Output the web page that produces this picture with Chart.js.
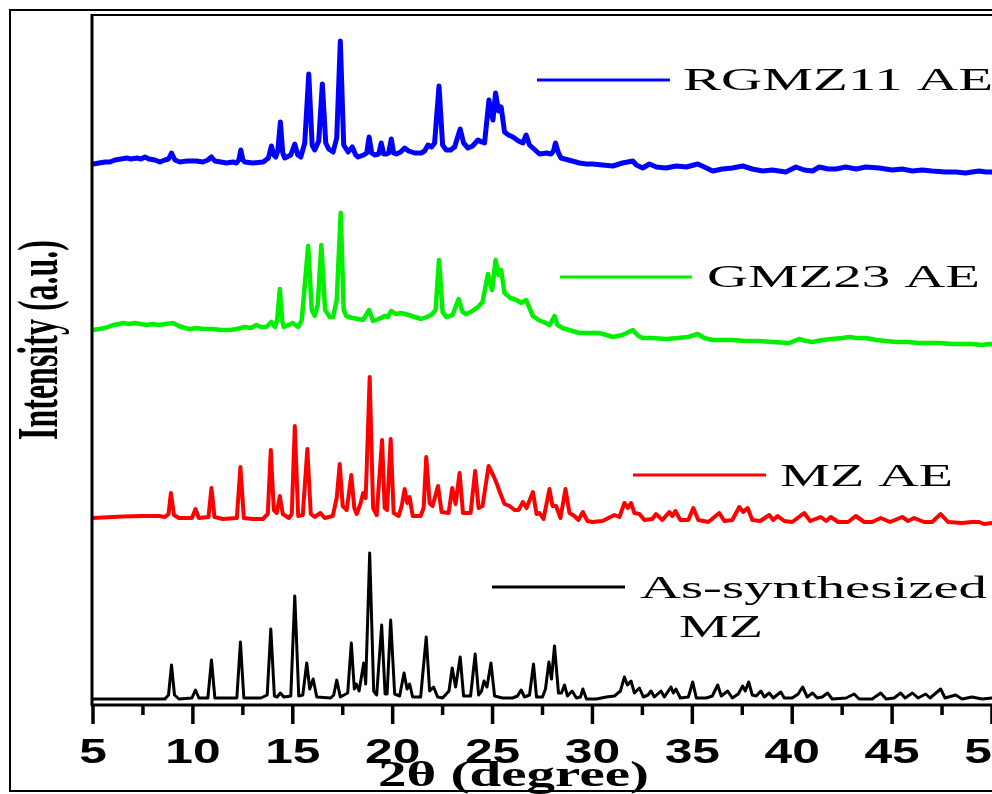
<!DOCTYPE html>
<html>
<head>
<meta charset="utf-8">
<title>XRD patterns</title>
<script src="https://cdn.jsdelivr.net/npm/chart.js@4.4.1/dist/chart.umd.min.js"></script>
<style>
  html, body { margin: 0; padding: 0; background: #fff; }
  #xrd { display: block; }
</style>
</head>
<body>
<canvas id="xrd" width="992" height="794"></canvas>
<script>
// [2theta, intensity above the pattern's own baseline]
const asSynthesizedMZ = [
  [5.0,0],[8.6,0],[8.78,4],[8.93,34],[9.08,4],[9.3,0],[9.95,1],[10.13,9],[10.3,1],[10.75,1],
  [10.93,39],[11.1,1],[12.2,1],[12.38,57],[12.55,1],[13.4,1],[13.72,4],[13.9,70],[14.08,3],[14.22,2],
  [14.38,6],[14.55,2],[14.9,3],[15.1,103],[15.3,3],[15.5,4],[15.7,36],[15.85,10],[16.02,20],[16.2,2],
  [16.9,1],[17.05,4],[17.2,19],[17.38,2],[17.75,6],[17.93,56],[18.08,10],[18.18,15],[18.32,8],[18.55,36],
  [18.65,15],[18.85,146],[19.05,8],[19.2,4],[19.45,74],[19.62,5],[19.72,5],[19.9,79],[20.1,5],[20.35,3],
  [20.57,26],[20.72,10],[20.85,15],[21.0,2],[21.4,2],[21.68,62],[21.85,8],[22.05,12],[22.25,2],[22.5,1],
  [22.82,8],[22.98,31],[23.15,12],[23.38,42],[23.55,3],[23.9,3],[24.13,45],[24.3,4],[24.45,8],[24.57,18],
  [24.72,12],[24.92,36],[25.1,3],[25.5,1],[26.0,1],[26.25,3],[26.43,9],[26.6,2],[26.85,4],[27.05,35],
  [27.2,2],[27.5,2],[27.65,10],[27.82,37],[27.95,20],[28.1,53],[28.3,6],[28.45,6],[28.6,14],[28.75,3],
  [28.98,8],[29.2,1],[29.4,2],[29.52,10],[29.7,0],[30.2,0],[30.7,2],[31.1,3],[31.4,8],[31.6,22],
  [31.75,14],[31.93,18],[32.1,6],[32.35,11],[32.55,2],[32.78,4],[32.93,8],[33.1,2],[33.43,8],[33.6,2],
  [33.93,12],[34.05,6],[34.18,10],[34.4,1],[34.8,2],[35.02,17],[35.2,1],[35.7,1],[36.0,3],[36.27,14],
  [36.45,3],[36.77,8],[37.0,1],[37.3,5],[37.52,13],[37.65,8],[37.82,17],[38.0,4],[38.2,3],[38.43,8],
  [38.6,2],[38.85,6],[39.05,1],[39.43,7],[39.6,1],[40.0,1],[40.3,5],[40.52,12],[40.75,2],[41.02,6],
  [41.25,1],[41.5,2],[41.77,6],[42.0,0],[42.7,1],[43.1,5],[43.35,0],[44.0,0],[44.43,6],[44.7,0],
  [45.1,1],[45.43,6],[45.65,1],[46.02,6],[46.3,1],[46.68,5],[46.9,1],[47.43,10],[47.65,1],[48.18,4],
  [48.5,0],[49.0,2],[49.5,0],[50.0,1]
];

const mzAE = [
  [5.0,0],[6.5,1.5],[7.5,2],[8.3,2],[8.6,1],[8.78,4],[8.9,25],[9.05,3],[9.3,0],[9.95,0],
  [10.13,9],[10.3,0],[10.78,1],[10.93,30],[11.08,1],[11.5,-1],[12.2,0],[12.38,51],[12.55,0],[13.0,-1],
  [13.5,-1],[13.75,4],[13.9,68],[14.05,8],[14.2,5],[14.35,22],[14.5,4],[14.8,0],[14.95,4],[15.1,92],
  [15.27,2],[15.5,3],[15.73,69],[15.9,4],[16.1,1],[16.38,5],[16.6,0],[17.0,2],[17.2,20],[17.35,54],
  [17.5,12],[17.7,8],[17.93,43],[18.08,10],[18.2,4],[18.4,15],[18.52,25],[18.65,20],[18.85,141],[19.02,10],
  [19.2,3],[19.47,78],[19.6,10],[19.72,8],[19.9,79],[20.05,5],[20.3,2],[20.45,12],[20.6,29],[20.73,15],
  [20.85,21],[21.0,2],[21.4,2],[21.55,10],[21.68,61],[21.85,15],[22.0,12],[22.27,32],[22.45,6],[22.8,5],
  [22.98,30],[23.15,14],[23.35,45],[23.52,5],[23.9,5],[24.13,47],[24.3,10],[24.5,12],[24.8,52],[25.05,42],
  [25.2,35],[25.38,25],[25.6,14],[25.85,12],[26.1,8],[26.3,8],[26.52,16],[26.7,10],[27.02,26],[27.2,4],
  [27.35,5],[27.55,-1],[27.85,29],[28.0,12],[28.18,12],[28.4,0],[28.65,29],[28.85,5],[29.1,2],[29.3,-2],
  [29.52,6],[29.75,-3],[30.0,-4],[30.5,-3],[31.1,3],[31.35,1],[31.6,15],[31.78,10],[31.93,15],[32.1,5],
  [32.35,4],[32.6,-2],[33.0,-1],[33.18,4],[33.5,-2],[33.85,6],[34.0,2],[34.15,7],[34.4,-2],[34.8,-2],
  [35.05,10],[35.3,-2],[35.8,-4],[36.35,5],[36.6,-3],[37.0,-2],[37.35,11],[37.55,6],[37.77,10],[38.0,-2],
  [38.4,-3],[38.85,3],[39.05,-2],[39.27,2],[39.6,-3],[40.0,-4],[40.6,5],[40.9,-3],[41.43,1],[41.7,-3],
  [41.93,1],[42.3,-4],[42.8,-4],[43.18,2],[43.6,-4],[44.0,-4],[44.43,0],[44.9,-4],[45.5,1],[45.8,-3],
  [46.1,0],[46.6,-4],[47.0,-4],[47.43,4],[47.8,-4],[48.5,-5],[49.0,-4],[49.35,-4],[49.6,-6],[50.0,-5]
];

const gmz23AE = [
  [5.0,0],[5.3,1],[5.6,2],[6.02,5],[6.3,6],[6.5,7],[6.8,6],[7.1,7],[7.4,6],[7.68,5],
  [8.0,6],[8.3,5],[8.6,6],[9.0,7],[9.3,4],[9.6,2],[9.85,1],[10.2,2],[10.5,1],[11.0,1],
  [11.4,0],[11.85,0],[12.2,1],[12.6,3],[12.9,2],[13.18,5],[13.4,3],[13.68,3],[13.93,8],[14.1,3],
  [14.22,10],[14.35,41],[14.48,8],[14.55,3],[14.8,5],[15.0,7],[15.27,3],[15.45,10],[15.77,84],[15.95,20],
  [16.1,14],[16.25,25],[16.43,85],[16.62,20],[16.85,13],[17.02,13],[17.2,30],[17.4,117],[17.55,20],[17.68,14],
  [18.0,12],[18.3,11],[18.52,10],[18.82,20],[19.02,9],[19.3,11],[19.6,14],[19.75,13],[19.93,19],[20.15,16],
  [20.43,17],[20.8,15],[21.1,13],[21.43,11],[21.7,13],[21.93,15],[22.15,20],[22.32,70],[22.5,18],[22.68,13],
  [23.0,15],[23.3,31],[23.5,18],[23.68,16],[24.0,19],[24.27,23],[24.5,28],[24.77,56],[24.9,45],[24.98,40],
  [25.15,70],[25.3,55],[25.43,60],[25.6,37],[25.9,32],[26.2,30],[26.43,27],[26.6,29],[26.68,30],[26.85,22],
  [27.02,14],[27.3,10],[27.55,8],[27.85,5],[28.0,10],[28.1,14],[28.25,5],[28.5,2],[29.0,-1],[29.35,-3],
  [29.8,-3],[30.35,-3],[30.7,-5],[31.02,-7],[31.5,-5],[32.02,0],[32.3,-6],[32.52,-8],[33.0,-8],[33.68,-9],
  [34.3,-8],[34.8,-7],[35.27,-4],[35.6,-8],[36.02,-10],[36.5,-10],[37.0,-10],[37.68,-11],[38.3,-11],[39.0,-12],
  [39.85,-13],[40.35,-9],[40.7,-11],[41.02,-12],[41.5,-10],[42.0,-9],[42.5,-8],[42.85,-7],[43.2,-8],[43.68,-8],
  [44.2,-10],[44.7,-11],[45.18,-12],[45.8,-12],[46.3,-13],[46.85,-13],[47.4,-13],[48.0,-14],[48.52,-14],[49.0,-14],
  [49.5,-15],[49.85,-14],[50.0,-14]
];

const rgmz11AE = [
  [5.0,-1],[5.3,0],[5.6,1],[5.85,1],[6.1,3],[6.4,4],[6.68,5],[6.9,4],[7.2,5],[7.4,4],
  [7.6,6],[7.8,4],[8.1,3],[8.35,1],[8.6,3],[8.78,4],[8.93,10],[9.1,3],[9.35,1],[9.7,2],
  [10.18,2],[10.5,1],[10.75,3],[10.93,6],[11.1,2],[11.4,1],[11.68,0],[12.0,1],[12.18,0],[12.3,3],
  [12.4,13],[12.5,3],[12.6,1],[13.0,0],[13.52,1],[13.78,5],[13.93,17],[14.05,8],[14.15,6],[14.25,12],
  [14.38,41],[14.5,10],[14.6,5],[14.9,8],[15.1,19],[15.25,8],[15.4,6],[15.6,20],[15.8,89],[15.97,18],
  [16.1,13],[16.3,22],[16.48,79],[16.65,20],[16.8,14],[17.02,11],[17.2,25],[17.38,122],[17.55,18],[17.77,11],
  [17.98,16],[18.15,8],[18.27,6],[18.55,8],[18.7,10],[18.82,26],[18.95,10],[19.1,8],[19.3,9],[19.43,20],
  [19.55,9],[19.68,9],[19.8,10],[19.93,24],[20.05,10],[20.18,9],[20.4,11],[20.6,15],[20.8,12],[21.1,10],
  [21.43,10],[21.6,12],[21.77,18],[21.95,16],[22.1,20],[22.32,77],[22.5,18],[22.68,13],[22.9,13],[23.1,16],
  [23.38,34],[23.55,20],[23.77,15],[24.0,17],[24.27,23],[24.45,21],[24.6,20],[24.82,63],[24.93,50],[25.02,43],
  [25.15,70],[25.3,52],[25.43,56],[25.6,31],[25.8,28],[26.02,26],[26.3,22],[26.52,20],[26.68,28],[26.85,18],
  [27.02,15],[27.35,9],[27.7,10],[27.93,9],[28.05,12],[28.15,20],[28.3,10],[28.43,5],[28.8,3],[29.35,0],
  [29.7,-1],[30.0,-1],[30.5,-2],[31.02,-3],[31.5,0],[32.02,2],[32.2,-2],[32.52,-5],[32.85,-1],[33.2,-4],
  [33.68,-5],[34.2,-3],[34.7,-4],[35.27,-1],[35.6,-4],[36.02,-8],[36.5,-6],[37.0,-5],[37.52,-3],[38.0,-6],
  [38.52,-8],[39.0,-7],[39.68,-9],[40.18,-4],[40.6,-7],[41.02,-8],[41.35,-4],[41.8,-6],[42.2,-6],[42.68,-4],
  [43.2,-6],[43.68,-4],[44.35,-5],[45.0,-7],[45.5,-6],[46.02,-8],[46.5,-7],[47.0,-8],[47.68,-9],[48.2,-9],
  [48.68,-10],[49.0,-9],[49.35,-8],[49.7,-9],[50.0,-9]
];

// vertical stacking offset of each pattern, same units as intensity
const baselines = [6, 187, 375, 542];
const seriesNames = ["As-synthesized MZ", "MZ AE", "GMZ23 AE", "RGMZ11 AE"];
const xTickLabels = [5, 10, 15, 20, 25, 30, 35, 40, 45, 50];

const patterns = [asSynthesizedMZ, mzAE, gmz23AE, rgmz11AE];
const toPoints = (pat, off) => pat.map(p => ({ x: p[0], y: p[1] + off }));

const SERIF = '"Liberation Serif", "Times New Roman", serif';
const SANS = '"Liberation Sans", Arial, sans-serif';

// canvas text squeezed/stretched horizontally, the source figure is stretched
function drawText(ctx, text, x, y, font, sx, align) {
  ctx.save();
  ctx.font = font;
  ctx.translate(x, y);
  ctx.scale(sx, 1);
  ctx.textAlign = align || "left";
  ctx.textBaseline = "alphabetic";
  ctx.fillStyle = "#000";
  ctx.fillText(text, 0, 0);
  ctx.restore();
}
function drawTextWidth(ctx, text, x, y, font, width) {
  ctx.save();
  ctx.font = font;
  const w = ctx.measureText(text).width;
  ctx.restore();
  drawText(ctx, text, x, y, font, width / w, "left");
}

const legendItems = [
  { color: "#000000", x1: 492, x2: 625, ly: 587, lines: [["As-synthesized", 640, 598, 347], ["MZ", 679, 637, 84]] },
  { color: "#ff0000", x1: 633, x2: 766, ly: 475, lines: [["MZ AE", 780, 486, 173]] },
  { color: "#00f000", x1: 560, x2: 692, ly: 277, lines: [["GMZ23 AE", 707, 287, 273]] },
  { color: "#0000ff", x1: 537, x2: 670, ly: 80, lines: [["RGMZ11 AE", 683, 90, 310]] }
];

const whiteBg = {
  id: "whiteBg",
  beforeDraw(chart) {
    const ctx = chart.ctx;
    ctx.save();
    ctx.fillStyle = "#fff";
    ctx.fillRect(0, 0, chart.width, chart.height);
    ctx.restore();
  }
};

const frameAndText = {
  id: "frameAndText",
  afterDraw(chart) {
    const ctx = chart.ctx;
    const xs = chart.scales.x;
    const area = chart.chartArea;
    const axisY = area.bottom;

    ctx.save();
    ctx.strokeStyle = "#000";
    ctx.lineCap = "butt";

    // outer frame
    ctx.lineWidth = 2;
    ctx.beginPath();
    ctx.moveTo(1000, 10); ctx.lineTo(10, 10); ctx.lineTo(10, 791); ctx.lineTo(1000, 791);
    ctx.stroke();

    // plot box
    ctx.lineWidth = 2;
    ctx.beginPath();
    ctx.moveTo(area.left - 1, 15); ctx.lineTo(1000, 15);
    ctx.stroke();
    ctx.lineWidth = 3;
    ctx.beginPath();
    ctx.moveTo(area.left - 1, 14); ctx.lineTo(area.left - 1, axisY + 1);
    ctx.stroke();
    ctx.beginPath();
    ctx.moveTo(area.left - 2, axisY); ctx.lineTo(1000, axisY);
    ctx.stroke();

    // tick marks, major every 5 deg, minor in between
    ctx.lineWidth = 3.5;
    xs.ticks.forEach(t => {
      const px = xs.getPixelForValue(t.value);
      const major = Math.abs(t.value % 5) < 1e-6;
      ctx.beginPath();
      ctx.moveTo(px, axisY);
      ctx.lineTo(px, axisY + (major ? 19 : 10));
      ctx.stroke();
    });
    ctx.restore();

    xTickLabels.forEach(v => {
      drawText(chart.ctx, String(v), xs.getPixelForValue(v), 763, "bold 35px " + SANS, 1.42, "center");
    });

    drawTextWidth(ctx, "2\u03b8 (degree)", 378, 786, "bold 36px " + SERIF, 271);

    // y title, rotated
    ctx.save();
    ctx.translate(57, 340);
    ctx.scale(1.76, 1);
    ctx.rotate(-Math.PI / 2);
    ctx.font = "bold 32px " + SERIF;
    ctx.textAlign = "center";
    ctx.textBaseline = "alphabetic";
    ctx.fillStyle = "#000";
    ctx.fillText("Intensity (a.u.)", 0, 0);
    ctx.restore();

    // legend labels placed beside each pattern
    legendItems.forEach(item => {
      ctx.save();
      ctx.strokeStyle = item.color;
      ctx.lineWidth = 3;
      ctx.beginPath();
      ctx.moveTo(item.x1, item.ly);
      ctx.lineTo(item.x2, item.ly);
      ctx.stroke();
      ctx.restore();
      item.lines.forEach(l => drawTextWidth(ctx, l[0], l[1], l[2], "32px " + SERIF, l[3]));
    });
  }
};

const lineWidths = [3, 4, 4.5, 5];
const lineColors = ["#000000", "#ff0000", "#00f000", "#0000ff"];

new Chart(document.getElementById("xrd").getContext("2d"), {
  type: "line",
  data: {
    datasets: patterns.map((pat, i) => ({
      label: seriesNames[i],
      data: toPoints(pat, baselines[i]),
      borderColor: lineColors[i],
      borderWidth: lineWidths[i],
      pointRadius: 0,
      tension: 0,
      fill: false,
      borderJoinStyle: "round",
      borderCapStyle: "round"
    }))
  },
  options: {
    responsive: false,
    animation: false,
    events: [],
    layout: { padding: { left: 93, right: 0, top: 15, bottom: 89 } },
    plugins: { legend: { display: false }, tooltip: { enabled: false }, title: { display: false } },
    scales: {
      x: {
        type: "linear",
        min: 5,
        max: 50,
        ticks: { display: false, stepSize: 2.5 },
        grid: { display: false, drawTicks: false },
        border: { display: false },
        afterFit: s => { s.height = 0; }
      },
      y: {
        display: false,
        min: 0,
        max: 690
      }
    }
  },
  plugins: [whiteBg, frameAndText]
});
</script>
</body>
</html>
